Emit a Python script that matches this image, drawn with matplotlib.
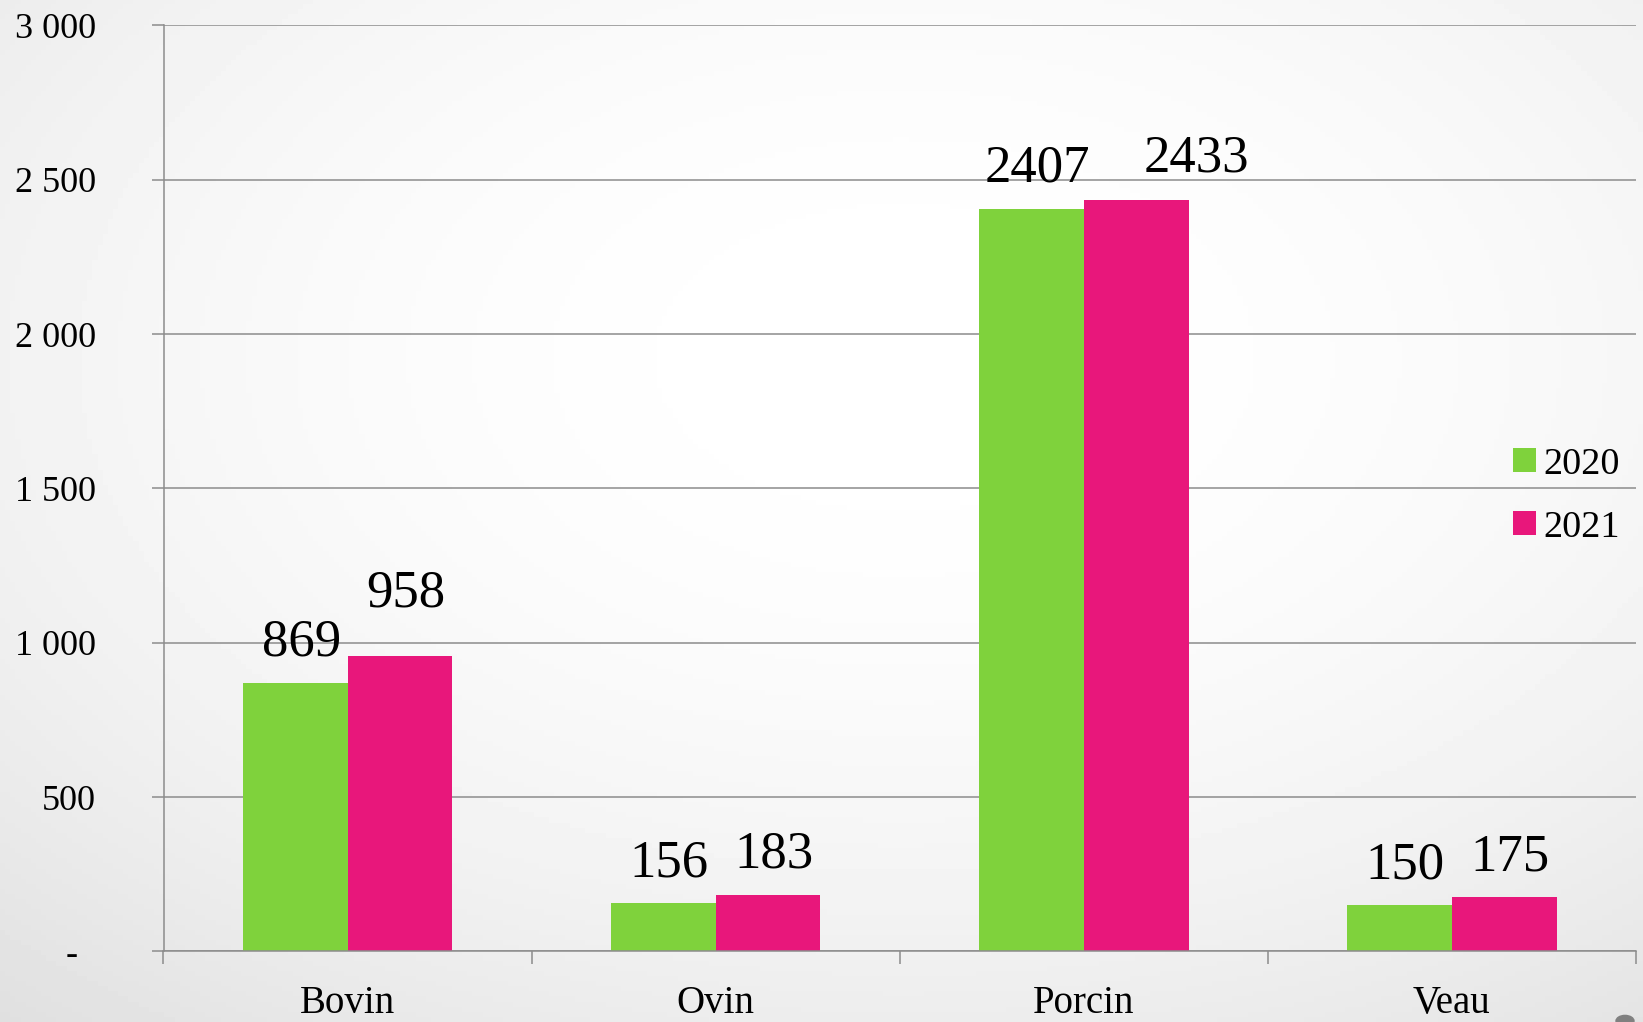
import numpy as np
import matplotlib.pyplot as plt
from matplotlib.patches import Circle

# data
categories = ["Bovin", "Ovin", "Porcin", "Veau"]
series_names = ["2020", "2021"]
values_2020 = [869, 156, 2407, 150]
values_2021 = [958, 183, 2433, 175]
yticks = [0, 500, 1000, 1500, 2000, 2500, 3000]
ytick_labels = ["-  ", "500", "1 000", "1 500", "2 000", "2 500", "3 000"]

# style
green = "#7fd23c"
pink = "#e8177b"
grid_col = "#8c8c8c"
plt.rcParams["font.family"] = ["Liberation Serif", "DejaVu Serif"]

W, H = 1643, 1022
fig = plt.figure(figsize=(W / 100, H / 100), dpi=100)

# soft radial background like the slide
bg = fig.add_axes([0, 0, 1, 1], zorder=-10)
yy, xx = np.mgrid[0:1:200j, 0:1:320j]
r2 = (xx - 0.55) ** 2 + (yy - 0.35) ** 2
shade = 1 - 0.17 * r2
bg.imshow(shade, cmap="gray", vmin=0, vmax=1, aspect="auto", extent=[0, 1, 0, 1],
          origin="upper")
bg.axis("off")
bg.add_patch(Circle((1625 / W, 1 - 1021 / H), 9 / W, color="#808080",
                    transform=bg.transAxes, clip_on=False))

ax = fig.add_axes([163.5 / W, 1 - 951.4 / H, (1635.7 - 163.5) / W, (951.4 - 25.5) / H])
ax.patch.set_alpha(0)

x = np.arange(len(categories))
bw = 0.285
b1 = ax.bar(x - bw / 2, values_2020, bw, color=green, label=series_names[0], zorder=2)
b2 = ax.bar(x + bw / 2, values_2021, bw, color=pink, label=series_names[1], zorder=2)

# value labels (pixel offsets: dx, dy)
pad_2020 = [(6, 28), (6, 27), (6, 27), (6, 27)]
pad_2021 = [(6, 49), (6, 27), (60, 29), (6, 27)]
for bars, vals, pads in [(b1, values_2020, pad_2020), (b2, values_2021, pad_2021)]:
    for rect, v, (dx, dy) in zip(bars, vals, pads):
        ax.annotate(str(v), (rect.get_x() + rect.get_width() / 2, v),
                    xytext=(dx, dy), textcoords="offset pixels",
                    ha="center", va="baseline", fontsize=38, zorder=5)

ax.set_xlim(-0.5, 3.5)
ax.set_ylim(0, 3000)
ax.set_yticks(yticks)
ax.set_yticklabels(ytick_labels, fontsize=26)
ax.set_xticks(x)
ax.set_xticklabels(categories, fontsize=28)
ax.set_xticks(np.arange(-0.5, 4, 1), minor=True)
ax.tick_params(axis="x", which="major", length=0, pad=24.5)
ax.tick_params(axis="x", which="minor", length=9.4, width=1.1, color=grid_col)
ax.tick_params(axis="y", length=8.6, width=1.1, color=grid_col, pad=40)

ax.yaxis.grid(True, color=grid_col, linewidth=1.1, zorder=0)
ax.set_axisbelow(True)
for s in ["top", "right"]:
    ax.spines[s].set_visible(False)
for s in ["left", "bottom"]:
    ax.spines[s].set_color(grid_col)
    ax.spines[s].set_linewidth(1.1)

leg = fig.legend(handles=[b1, b2], labels=series_names, loc="center left",
                 bbox_to_anchor=(1494 / W, 1 - 496 / H), frameon=False,
                 fontsize=27.5, handlelength=0.6, handleheight=0.6,
                 handletextpad=0.2, labelspacing=0.75, borderpad=0)

fig.savefig("out.png", dpi=100)
